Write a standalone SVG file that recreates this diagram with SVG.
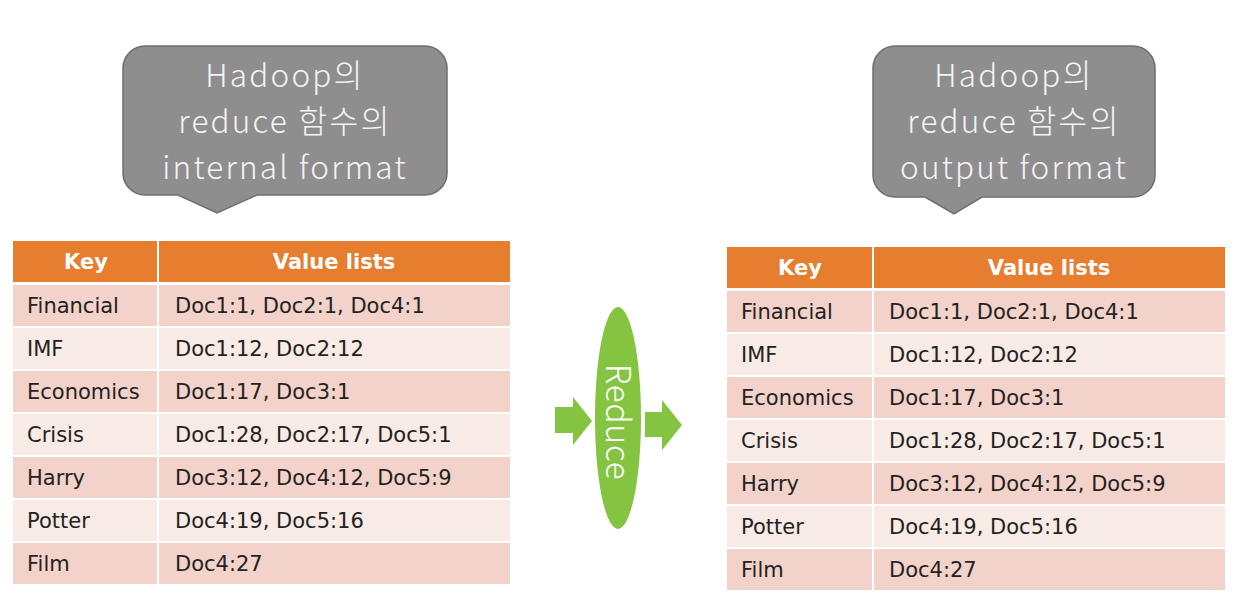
<svg xmlns="http://www.w3.org/2000/svg" width="1243" height="603" viewBox="0 0 1243 603">
<style>
.hdr{fill:#E67D2F}
.odd{fill:#F3D3C9}
.even{fill:#F8EBE6}
.ht{font-family:"DejaVu Sans",sans-serif;font-weight:bold;font-size:21px;fill:#FFFFFF;text-anchor:middle}
.bt{font-family:"DejaVu Sans",sans-serif;font-size:21px;fill:#222222}
.bubble{fill:#8E8E8E;stroke:#6E6E6E;stroke-width:1.5}
.ct{font-family:"Noto Sans CJK KR","Open Sans",sans-serif;font-weight:300;font-size:31.5px;letter-spacing:2.2px;fill:#F4F4F4;text-anchor:middle}
.green{fill:#84C441}
.rt{font-family:"Noto Sans CJK KR","Open Sans",sans-serif;font-weight:300;font-size:34px;letter-spacing:0.5px;fill:#FFFFFF;text-anchor:middle}
</style>
<rect width="1243" height="603" fill="#FFFFFF"/>

<g id="callout-internal">
<path class="bubble" d="M145,46 H425 A22,22 0 0 1 447,68 V173 A22,22 0 0 1 425,195 H257 L217,213 L178,195 H145 A22,22 0 0 1 123,173 V68 A22,22 0 0 1 145,46 Z"/>
<text class="ct" x="285" y="87">Hadoop의</text>
<text class="ct" x="285" y="133">reduce 함수의</text>
<text class="ct" x="285" y="179">internal format</text>
</g>

<g id="callout-output">
<path class="bubble" d="M895,46 H1133 A22,22 0 0 1 1155,68 V175 A22,22 0 0 1 1133,197 H982 L954,214 L925,197 H895 A22,22 0 0 1 873,175 V68 A22,22 0 0 1 895,46 Z"/>
<text class="ct" x="1014" y="87">Hadoop의</text>
<text class="ct" x="1014" y="133">reduce 함수의</text>
<text class="ct" x="1014" y="179">output format</text>
</g>

<g id="table-internal">
<rect class="hdr" x="13" y="241" width="144" height="41"/>
<rect class="hdr" x="159" y="241" width="351" height="41"/>
<text class="ht" x="86" y="269">Key</text>
<text class="ht" x="334" y="269">Value lists</text>

<rect class="odd" x="13" y="285" width="144" height="41"/><rect class="odd" x="159" y="285" width="351" height="41"/>
<rect class="even" x="13" y="328" width="144" height="41"/><rect class="even" x="159" y="328" width="351" height="41"/>
<rect class="odd" x="13" y="371" width="144" height="41"/><rect class="odd" x="159" y="371" width="351" height="41"/>
<rect class="even" x="13" y="414" width="144" height="41"/><rect class="even" x="159" y="414" width="351" height="41"/>
<rect class="odd" x="13" y="457" width="144" height="41"/><rect class="odd" x="159" y="457" width="351" height="41"/>
<rect class="even" x="13" y="500" width="144" height="41"/><rect class="even" x="159" y="500" width="351" height="41"/>
<rect class="odd" x="13" y="543" width="144" height="41"/><rect class="odd" x="159" y="543" width="351" height="41"/>

<text class="bt" x="27" y="313">Financial</text><text class="bt" x="175" y="313">Doc1:1, Doc2:1, Doc4:1</text>
<text class="bt" x="27" y="356">IMF</text><text class="bt" x="175" y="356">Doc1:12, Doc2:12</text>
<text class="bt" x="27" y="399">Economics</text><text class="bt" x="175" y="399">Doc1:17, Doc3:1</text>
<text class="bt" x="27" y="442">Crisis</text><text class="bt" x="175" y="442">Doc1:28, Doc2:17, Doc5:1</text>
<text class="bt" x="27" y="485">Harry</text><text class="bt" x="175" y="485">Doc3:12, Doc4:12, Doc5:9</text>
<text class="bt" x="27" y="528">Potter</text><text class="bt" x="175" y="528">Doc4:19, Doc5:16</text>
<text class="bt" x="27" y="571">Film</text><text class="bt" x="175" y="571">Doc4:27</text>
</g>

<g id="reduce">
<ellipse class="green" cx="618" cy="418" rx="23" ry="111"/>
<text class="rt" transform="translate(606,422) rotate(90)" x="0" y="0">Reduce</text>
</g>

<g id="connectors">
<polygon class="green" points="555,407 573,407 573,397 592,421 573,445 573,433 555,433"/>
<polygon class="green" points="645,412 662,412 662,400 682,425 662,450 662,437 645,437"/>
</g>

<g id="table-output">
<rect class="hdr" x="727" y="247" width="145" height="41"/>
<rect class="hdr" x="874" y="247" width="351" height="41"/>
<text class="ht" x="800" y="275">Key</text>
<text class="ht" x="1049" y="275">Value lists</text>

<rect class="odd" x="727" y="291" width="145" height="41"/><rect class="odd" x="874" y="291" width="351" height="41"/>
<rect class="even" x="727" y="334" width="145" height="41"/><rect class="even" x="874" y="334" width="351" height="41"/>
<rect class="odd" x="727" y="377" width="145" height="41"/><rect class="odd" x="874" y="377" width="351" height="41"/>
<rect class="even" x="727" y="420" width="145" height="41"/><rect class="even" x="874" y="420" width="351" height="41"/>
<rect class="odd" x="727" y="463" width="145" height="41"/><rect class="odd" x="874" y="463" width="351" height="41"/>
<rect class="even" x="727" y="506" width="145" height="41"/><rect class="even" x="874" y="506" width="351" height="41"/>
<rect class="odd" x="727" y="549" width="145" height="41"/><rect class="odd" x="874" y="549" width="351" height="41"/>

<text class="bt" x="741" y="319">Financial</text><text class="bt" x="889" y="319">Doc1:1, Doc2:1, Doc4:1</text>
<text class="bt" x="741" y="362">IMF</text><text class="bt" x="889" y="362">Doc1:12, Doc2:12</text>
<text class="bt" x="741" y="405">Economics</text><text class="bt" x="889" y="405">Doc1:17, Doc3:1</text>
<text class="bt" x="741" y="448">Crisis</text><text class="bt" x="889" y="448">Doc1:28, Doc2:17, Doc5:1</text>
<text class="bt" x="741" y="491">Harry</text><text class="bt" x="889" y="491">Doc3:12, Doc4:12, Doc5:9</text>
<text class="bt" x="741" y="534">Potter</text><text class="bt" x="889" y="534">Doc4:19, Doc5:16</text>
<text class="bt" x="741" y="577">Film</text><text class="bt" x="889" y="577">Doc4:27</text>
</g>
</svg>
